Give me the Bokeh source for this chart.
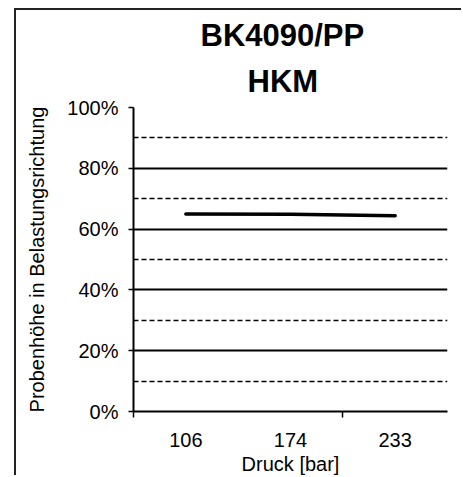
from bokeh.plotting import figure
from bokeh.models import FixedTicker, Grid, Title, NumeralTickFormatter, Range1d
from bokeh.embed import file_html
from bokeh.resources import INLINE

# data
categories = ["106", "174", "233"]
heights = [0.650, 0.649, 0.644]
y_major = [0.0, 0.2, 0.4, 0.6, 0.8, 1.0]
y_dashed = [0.1, 0.3, 0.5, 0.7, 0.9]
title_lines = ["BK4090/PP", "HKM"]

FONT = "Liberation Sans"

xs = [i + 0.5 for i in range(len(categories))]

p = figure(width=447, height=467,
           x_range=Range1d(0, len(categories)), y_range=Range1d(0, 1),
           output_backend="svg", toolbar_location=None,
           min_border_left=117, min_border_right=16,
           min_border_top=97, min_border_bottom=66,
           margin=(10, 0, 0, 16))
p.styles = {"box-shadow": "-2px -2px 0 0 #222"}
p.outline_line_color = None
p.background_fill_color = "white"
p.border_fill_color = "white"

# grids
p.xgrid.visible = False
p.ygrid.ticker = FixedTicker(ticks=y_major)
p.ygrid.grid_line_color = "black"
p.ygrid.grid_line_width = 2
g2 = Grid(dimension=1, ticker=FixedTicker(ticks=y_dashed),
          grid_line_color="black", grid_line_width=1.5, grid_line_dash="5 3")
p.add_layout(g2)

# y axis
ya = p.yaxis[0]
ya.ticker = FixedTicker(ticks=y_major)
ya.formatter = NumeralTickFormatter(format="0%")
ya.axis_line_width = 2
ya.axis_line_color = "black"
ya.major_tick_out = 5
ya.major_tick_in = 0
ya.major_tick_line_width = 1.5
ya.minor_tick_out = 0
ya.minor_tick_in = 0
ya.major_label_text_font = FONT
ya.major_label_text_font_size = "20px"
ya.major_label_text_color = "black"
ya.major_label_standoff = 10
ya.axis_label = "Probenhöhe in Belastungsrichtung"
ya.axis_label_text_font = FONT
ya.axis_label_text_font_size = "20px"
ya.axis_label_text_font_style = "normal"
ya.axis_label_text_color = "black"
ya.axis_label_standoff = 16

# x axis
xa = p.xaxis[0]
xa.ticker = FixedTicker(ticks=xs, minor_ticks=[0, 2])
xa.major_label_overrides = {x: c for x, c in zip(xs, categories)}
xa.axis_line_width = 2
xa.axis_line_color = "black"
xa.major_tick_out = 0
xa.major_tick_in = 0
xa.minor_tick_out = 6
xa.minor_tick_in = 0
xa.minor_tick_line_width = 1.5
xa.minor_tick_line_color = "black"
xa.major_label_text_font = FONT
xa.major_label_text_font_size = "20px"
xa.major_label_text_color = "black"
xa.major_label_standoff = 15
xa.axis_label = "Druck [bar]"
xa.axis_label_text_font = FONT
xa.axis_label_text_font_size = "20px"
xa.axis_label_text_font_style = "normal"
xa.axis_label_text_color = "black"
xa.axis_label_standoff = 3

# line
p.line(xs, heights, line_width=3.5, line_color="black", line_cap="round", line_join="round")

# title: stacked outward from the frame, so the last line goes in first
for t, so, off in zip(reversed(title_lines), [18, 0], [114, 67]):
    p.add_layout(Title(text=t, align="left", offset=off, standoff=so,
                       text_font=FONT, text_font_size="31px",
                       text_font_style="bold", text_color="black"), "above")

open("out.html", "w").write(file_html(p, INLINE))
